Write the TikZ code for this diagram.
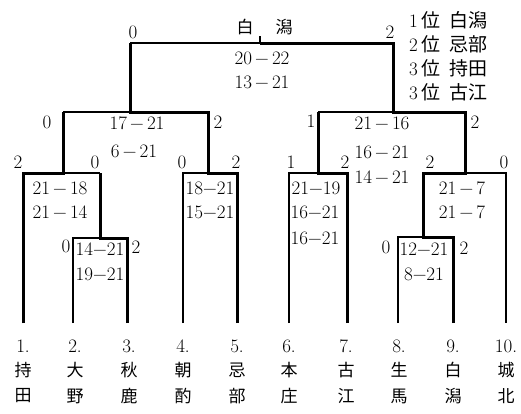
\documentclass[tikz,border=0pt]{standalone}
\usepackage{fontspec}
\newfontfamily\jp{Noto Sans CJK JP}
\usepackage{tikz}
\tikzset{
  sottile/.style={line width=1.2pt},
  spesso/.style={line width=3pt, line join=miter},
  punti/.style={font=\fontsize{19}{22}\selectfont, inner sep=0pt},
  nome/.style={font=\jp\fontsize{17}{19}\selectfont, inner sep=0pt},
}
\newcommand{\ms}{\,−\,}

\begin{document}
\begin{tikzpicture}[x=1pt,y=-1pt]
        \useasboundingbox (0,0) rectangle (521,413);
        \def\yF{43}  % finale
        \def\yS{112} % semifinali
        \def\yQ{173} % quarti
        \def\yP{238} % primo turno
        \def\yB{323} % base

        % Tabellone (linee sottili)
        \draw[sottile] (23,\yB) -- (23,\yQ) -- (100,\yQ);
        \draw[sottile] (73,\yB) -- (73,\yP) -- (127,\yP) -- (127,\yB);
        \draw[sottile] (183,\yB) -- (183,\yQ) -- (237,\yQ) -- (237,\yB);
        \draw[sottile] (63,\yS) -- (208,\yS);
        \draw[sottile] (130,\yF) -- (393,\yF);
        \draw[sottile] (260,\yF) -- (260,36);
        \draw[sottile] (289,\yB) -- (289,\yQ) -- (347,\yQ) -- (347,\yB);
        \draw[sottile] (398,\yB) -- (398,237) -- (453,237) -- (453,\yB);
        \draw[sottile] (423,\yQ) -- (506,\yQ) -- (506,\yB);
        \draw[sottile] (318,\yS) -- (465,\yS);

        % Percorsi dei vincitori (linee spesse)
        \draw[spesso] (23,\yB) -- (23,\yQ) -- (63,\yQ) -- (63,\yS);
        \draw[spesso] (127,\yB) -- (127,\yP) -- (100,\yP) -- (100,\yQ);
        \draw[spesso] (237,\yB) -- (237,\yQ) -- (208,\yQ) -- (208,\yS)
        -- (130,\yS) -- (130,\yF);
        \draw[spesso] (347,\yB) -- (347,\yQ) -- (318,\yQ) -- (318,\yS);
        \draw[spesso] (453,\yB) -- (453,237) -- (423,237) -- (423,\yQ)
        -- (465,\yQ) -- (465,\yS) -- (393,\yS) -- (393,\yF) -- (260,\yF);

        % Vincitore
        \node[nome] (v1) at (245,27) {白};
        \node[nome] (v2) at (284,27) {潟};

        % Finale
        \node[punti] (fa) at (133,32) {0};
        \node[punti] (fb) at (390,32) {2};
        \node[punti] (f1) at (262,58) {20\ms22};
        \node[punti] (f2) at (262,82) {13\ms21};

        % Semifinale sinistra
        \node[punti] (sa) at (47,122) {0};
        \node[punti] (sb) at (218,122) {2};
        \node[punti] (s1) at (137,123) {17\ms21};
        \node[punti] (s2) at (134,151) {6\ms21};

        % Semifinale destra
        \node[punti] (ta) at (311,121) {1};
        \node[punti] (tb) at (475,122) {2};
        \node[punti] (t1) at (382,123) {21\ms16};
        \node[punti] (t2) at (382,152) {16\ms21};
        \node[punti] (t3) at (382,177) {14\ms21};

        % Quarti
        \node[punti] (qa) at (18,162) {2};
        \node[punti] (qb) at (95,162) {0};
        \node[punti] (q1) at (60,188) {21\ms18};
        \node[punti] (q2) at (60,212) {21\ms14};

        \node[punti] (ra) at (182,162) {0};
        \node[punti] (rb) at (236,162) {2};
        \node[punti] (r1) at (210,188) {18−21};
        \node[punti] (r2) at (210,212) {15−21};

        \node[punti] (ua) at (291,162) {1};
        \node[punti] (ub) at (345,162) {2};
        \node[punti] (u1) at (316,188) {21−19};
        \node[punti] (u2) at (315,212) {16−21};
        \node[punti] (u3) at (315,238) {16−21};

        \node[punti] (wa) at (430,162) {2};
        \node[punti] (wb) at (504,162) {0};
        \node[punti] (w1) at (462,188) {21\ms7};
        \node[punti] (w2) at (462,212) {21\ms7};

        % Primo turno
        \node[punti] (pa) at (66,246) {0};
        \node[punti] (pb) at (136,247) {2};
        \node[punti] (p1) at (100,249) {14−21};
        \node[punti] (p2) at (100,274) {19−21};

        \node[punti] (oa) at (386,247) {0};
        \node[punti] (ob) at (464,248) {2};
        \node[punti] (o1) at (424,249) {12−21};
        \node[punti] (o2) at (424,274) {8−21};

        % Squadre
        \foreach \x/\n/\a/\b [count=\i] in {23/1/持/田, 75/2/大/野,
          129/3/秋/鹿, 183/4/朝/酌, 237/5/忌/部, 289/6/本/庄,
          346/7/古/江, 399/8/生/馬, 453/9/白/潟, 506/10/城/北}{
          \node[punti] (n\i) at (\x,346) {\n.};
          \node[nome] (a\i) at (\x,370) {\a};
          \node[nome] (b\i) at (\x,396) {\b};
        }

        % Classifica
        \node[punti, anchor=west] (c1) at (409,20) {1\,{\jp 位}\enspace{\jp 白潟}};
        \node[punti, anchor=west] (c2) at (409,44) {2\,{\jp 位}\enspace{\jp 忌部}};
        \node[punti, anchor=west] (c3) at (409,68) {3\,{\jp 位}\enspace{\jp 持田}};
        \node[punti, anchor=west] (c4) at (409,92) {3\,{\jp 位}\enspace{\jp 古江}};
    \end{tikzpicture}
\end{document}
